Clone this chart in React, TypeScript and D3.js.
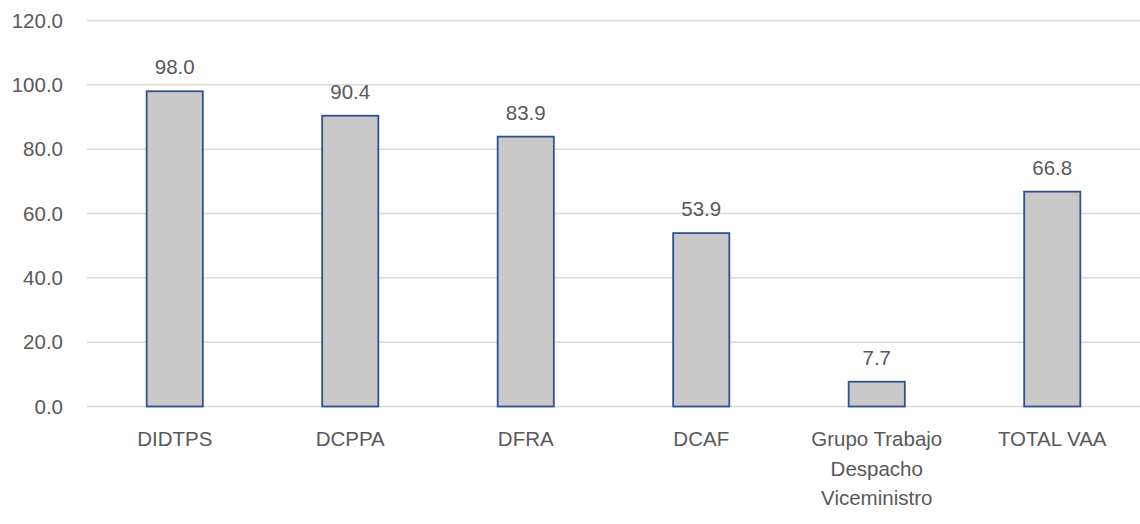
import * as d3 from 'd3'
import { useEffect, useRef } from 'react'

const categories = ['DIDTPS', 'DCPPA', 'DFRA', 'DCAF', 'Grupo Trabajo Despacho Viceministro', 'TOTAL VAA']
const categoryLines = [['DIDTPS'], ['DCPPA'], ['DFRA'], ['DCAF'], ['Grupo Trabajo', 'Despacho', 'Viceministro'], ['TOTAL VAA']]
const values = [98.0, 90.4, 83.9, 53.9, 7.7, 66.8]
const yTicks = [0, 20, 40, 60, 80, 100, 120]

const W = 1140
const H = 524
const FONT = '"Liberation Sans", Arial, sans-serif'
const TEXT = '#595959'
const FS = 20.5

function BarChart() {
  const svgRef = useRef<SVGSVGElement>(null)

  useEffect(() => {
    if (!svgRef.current) return
    const svg = d3.select(svgRef.current)
    svg.selectAll('*').remove()

    const margin = { top: 20.5, right: 0, bottom: 117.5, left: 87 }
    const innerW = W - margin.left - margin.right
    const innerH = H - margin.top - margin.bottom

    const x = d3.scaleBand<string>().domain(categories).range([0, innerW]).padding(0)
    const y = d3.scaleLinear().domain([0, 120]).range([innerH, 0])
    const barW = x.bandwidth() * 0.32

    const g = svg.append('g').attr('transform', `translate(${margin.left},${margin.top})`)

    // gridlines
    g.append('g')
      .selectAll('line')
      .data(yTicks)
      .join('line')
      .attr('x1', 0)
      .attr('x2', innerW)
      .attr('y1', (d) => y(d))
      .attr('y2', (d) => y(d))
      .attr('stroke', '#d9d9d9')
      .attr('stroke-width', 1.5)

    // y tick labels
    g.append('g')
      .selectAll('text')
      .data(yTicks)
      .join('text')
      .attr('x', -24)
      .attr('y', (d) => y(d))
      .attr('dy', '0.35em')
      .attr('text-anchor', 'end')
      .attr('fill', TEXT)
      .attr('font-family', FONT)
      .attr('font-size', FS)
      .text((d) => d3.format('.1f')(d))

    // bars
    g.append('g')
      .selectAll('rect')
      .data(values)
      .join('rect')
      .attr('x', (_, i) => (x(categories[i]) ?? 0) + x.bandwidth() / 2 - barW / 2)
      .attr('y', (d) => y(d))
      .attr('width', barW)
      .attr('height', (d) => innerH - y(d))
      .attr('fill', '#c9c9c9')
      .attr('stroke', '#2f528f')
      .attr('stroke-width', 1.8)

    // value labels
    g.append('g')
      .selectAll('text')
      .data(values)
      .join('text')
      .attr('x', (_, i) => (x(categories[i]) ?? 0) + x.bandwidth() / 2)
      .attr('y', (d) => y(d) - 17)
      .attr('text-anchor', 'middle')
      .attr('fill', TEXT)
      .attr('font-family', FONT)
      .attr('font-size', FS)
      .text((d) => d3.format('.1f')(d))

    // category labels
    const cats = g
      .append('g')
      .selectAll('text')
      .data(categories)
      .join('text')
      .attr('x', (d) => (x(d) ?? 0) + x.bandwidth() / 2)
      .attr('y', innerH + 39.5)
      .attr('text-anchor', 'middle')
      .attr('fill', TEXT)
      .attr('font-family', FONT)
      .attr('font-size', FS)
    cats
      .selectAll('tspan')
      .data((_, i) => categoryLines[i].map((t) => ({ t, cx: (x(categories[i]) ?? 0) + x.bandwidth() / 2 })))
      .join('tspan')
      .attr('x', (d) => d.cx)
      .attr('dy', (_, j) => (j === 0 ? 0 : 29.5))
      .text((d) => d.t)
  }, [])

  return <svg ref={svgRef} width={W} height={H} style={{ display: 'block', background: '#fff' }} />
}

export default function App() {
  useEffect(() => {
    document.body.style.margin = '0'
  }, [])
  return <BarChart />
}
